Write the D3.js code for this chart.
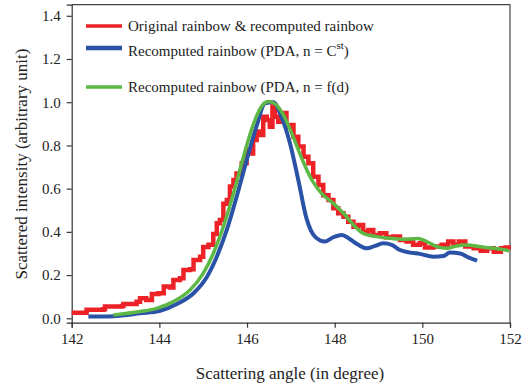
<!DOCTYPE html>
<html>
<head>
<meta charset="utf-8">
<script src="https://cdn.jsdelivr.net/npm/d3@7"></script>
<style>
  body { margin: 0; background: #fff; }
  svg text { font-family: "Liberation Serif", "Times New Roman", serif; fill: #222; }
</style>
</head>
<body>
<div id="chart"></div>
<script>
// Data (angle in degree, intensity)
var redX = [142.0, 142.3, 142.34, 142.72, 142.76, 143.14, 143.18, 143.48, 143.56, 143.7, 143.83, 143.98, 144.1, 144.24, 144.32, 144.47, 144.55, 144.7, 144.78, 144.93, 145.0, 145.12, 145.23, 145.31, 145.38, 145.46, 145.54, 145.61, 145.69, 145.76, 145.88, 145.99, 146.07, 146.14, 146.22, 146.3, 146.37, 146.45, 146.52, 146.58, 146.64, 146.71, 146.79, 146.9, 146.98, 147.06, 147.17, 147.29, 147.4, 147.51, 147.63, 147.74, 147.86, 147.97, 148.08, 148.2, 148.31, 148.43, 148.54, 148.65, 148.77, 148.88, 149.03, 149.18, 149.33, 149.49, 149.64, 149.79, 149.94, 150.06, 150.25, 150.44, 150.59, 150.71, 150.83, 150.98, 151.17, 151.33, 151.48, 151.63, 151.79, 151.9, 152.02];
var redY = [0.026, 0.026, 0.039, 0.042, 0.054, 0.057, 0.066, 0.077, 0.093, 0.085, 0.113, 0.116, 0.147, 0.143, 0.177, 0.185, 0.224, 0.227, 0.27, 0.285, 0.33, 0.34, 0.39, 0.44, 0.455, 0.53, 0.548, 0.61, 0.64, 0.67, 0.717, 0.78, 0.763, 0.825, 0.864, 0.848, 0.933, 0.918, 0.887, 0.98, 0.933, 0.91, 0.95, 0.887, 0.895, 0.84, 0.795, 0.748, 0.717, 0.655, 0.617, 0.57, 0.548, 0.509, 0.486, 0.47, 0.447, 0.424, 0.432, 0.40, 0.409, 0.386, 0.393, 0.375, 0.378, 0.362, 0.355, 0.34, 0.347, 0.328, 0.332, 0.34, 0.355, 0.34, 0.355, 0.332, 0.324, 0.313, 0.324, 0.308, 0.324, 0.328, 0.328];

var blueX = [142.38, 142.95, 143.56, 144.02, 144.4, 144.78, 145.08, 145.31, 145.54, 145.76, 145.99, 146.22, 146.41, 146.6, 146.79, 146.98, 147.17, 147.36, 147.55, 147.78, 147.97, 148.16, 148.35, 148.54, 148.73, 148.92, 149.11, 149.3, 149.49, 149.72, 149.94, 150.25, 150.48, 150.63, 150.86, 151.05, 151.25];
var blueY = [0.008, 0.01, 0.023, 0.035, 0.066, 0.116, 0.19, 0.285, 0.41, 0.56, 0.73, 0.89, 0.995, 1.0, 0.93, 0.81, 0.64, 0.46, 0.378, 0.355, 0.375, 0.386, 0.366, 0.34, 0.324, 0.335, 0.347, 0.34, 0.316, 0.304, 0.298, 0.285, 0.288, 0.304, 0.30, 0.282, 0.267];

var greenX = [142.95, 143.56, 143.94, 144.32, 144.7, 145.0, 145.23, 145.46, 145.69, 145.92, 146.14, 146.33, 146.49, 146.64, 146.83, 147.02, 147.25, 147.48, 147.7, 147.97, 148.2, 148.43, 148.65, 148.96, 149.26, 149.57, 149.9, 150.1, 150.33, 150.56, 150.78, 151.0, 151.4, 151.71, 151.98];
var greenY = [0.015, 0.031, 0.046, 0.077, 0.131, 0.208, 0.30, 0.424, 0.578, 0.748, 0.895, 0.98, 1.003, 0.992, 0.941, 0.856, 0.74, 0.64, 0.578, 0.532, 0.486, 0.432, 0.393, 0.378, 0.37, 0.366, 0.369, 0.355, 0.332, 0.324, 0.335, 0.339, 0.329, 0.322, 0.313];

var xTicks = [142, 144, 146, 148, 150, 152];
var yTicks = [0.0, 0.2, 0.4, 0.6, 0.8, 1.0, 1.2, 1.4];

var svgWidth = 524;
var svgHeight = 390;

var svg = d3.select("#chart")
    .append("svg")
    .attr("width", svgWidth)
    .attr("height", svgHeight);

// Plot box edges in pixels
var box = { left: 71.7, right: 510, top: 4.7, bottom: 322.7 };

var x = d3.scaleLinear().domain([142, 152]).range([box.left, box.right]);
var y = d3.scaleLinear().domain([-0.0204, 1.4513]).range([box.bottom, box.top]);

// frame (top and right)
svg.append("path")
    .attr("d", `M${box.left},${box.top}H${box.right}V${box.bottom}`)
    .attr("fill", "none")
    .attr("stroke", "#444")
    .attr("stroke-width", 1.2);

// axes
var xAxis = svg.append("g")
    .attr("transform", `translate(0,${box.bottom})`)
    .call(d3.axisBottom(x).tickValues(xTicks).tickSize(5).tickPadding(6).tickFormat(d3.format("d")));

var yAxis = svg.append("g")
    .attr("transform", `translate(${box.left},0)`)
    .call(d3.axisLeft(y).tickValues(yTicks).tickSize(5).tickPadding(6).tickFormat(d3.format(".1f")));

[xAxis, yAxis].forEach(function (g) {
  g.select(".domain").attr("stroke", "#333").attr("stroke-width", 1.2);
  g.selectAll(".tick line").attr("stroke", "#333").attr("stroke-width", 1.2);
  g.selectAll(".tick text")
    .style("font-family", "Liberation Serif, serif")
    .style("font-size", "15px")
    .attr("fill", "#222");
});

// lines
var line = d3.line()
    .x(d => x(d[0]))
    .y(d => y(d[1]));

function pairs(xs, ys) { return xs.map((v, i) => [v, ys[i]]); }

svg.append("path")
    .datum(pairs(redX, redY))
    .attr("fill", "none")
    .attr("stroke", "#ec2227")
    .attr("stroke-width", 4.5)
    .attr("d", line.curve(d3.curveStepAfter));

svg.append("path")
    .datum(pairs(blueX, blueY))
    .attr("fill", "none")
    .attr("stroke", "#2a52a6")
    .attr("stroke-width", 4)
    .attr("stroke-linejoin", "round")
    .attr("d", line.curve(d3.curveMonotoneX));

svg.append("path")
    .datum(pairs(greenX, greenY))
    .attr("fill", "none")
    .attr("stroke", "#5db845")
    .attr("stroke-width", 3.5)
    .attr("stroke-linejoin", "round")
    .attr("d", line.curve(d3.curveMonotoneX));

// legend
var legend = [
  { color: "#ec2227", y: 26, w: 3.5 },
  { color: "#2a52a6", y: 48, w: 4.5 },
  { color: "#5db845", y: 87, w: 3.5 }
];
legend.forEach(function (d) {
  svg.append("line")
    .attr("x1", 86).attr("x2", 122)
    .attr("y1", d.y).attr("y2", d.y)
    .attr("stroke", d.color)
    .attr("stroke-width", d.w);
});

svg.append("text").attr("x", 128).attr("y", 31).style("font-size", "15px")
  .text("Original rainbow & recomputed rainbow");

var t2 = svg.append("text").attr("x", 128).attr("y", 56).style("font-size", "15px");
t2.append("tspan").text("Recomputed rainbow (PDA, n = C");
t2.append("tspan").attr("dy", -7).style("font-size", "11px").text("st");
t2.append("tspan").attr("dy", 7).text(")");

svg.append("text").attr("x", 128).attr("y", 92).style("font-size", "15px")
  .text("Recomputed rainbow (PDA, n = f(d)");

// axis titles
svg.append("text")
  .attr("x", 290).attr("y", 379)
  .attr("text-anchor", "middle")
  .style("font-size", "17px")
  .text("Scattering angle (in degree)");

svg.append("text")
  .attr("transform", "translate(27,164) rotate(-90)")
  .attr("text-anchor", "middle")
  .style("font-size", "17px")
  .text("Scattered intensity (arbitrary unit)");
</script>
</body>
</html>
